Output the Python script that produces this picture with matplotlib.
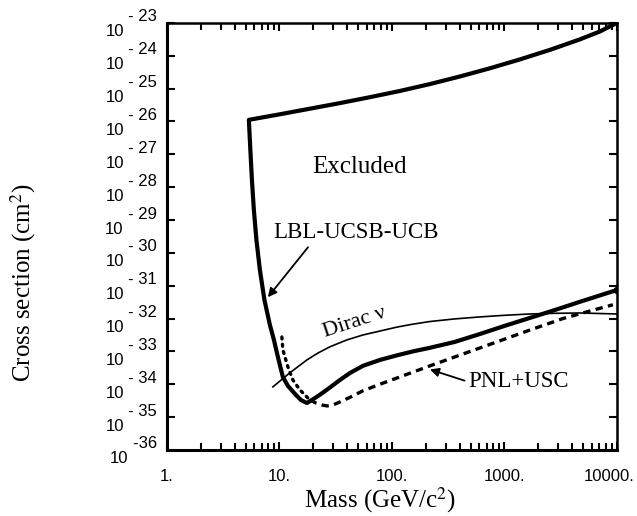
import numpy as np
import matplotlib
matplotlib.use("Agg")
import matplotlib.pyplot as plt
from matplotlib.ticker import FixedLocator, NullLocator, LogLocator, NullFormatter
from matplotlib.transforms import ScaledTranslation

plt.rcParams['font.family'] = ['Liberation Serif', 'DejaVu Serif']
plt.rcParams['mathtext.fontset'] = 'stix'

# LBL-UCSB-UCB boundary (mass in GeV/c^2, log10 of cross section in cm^2)
# upper edge, right to left
top_mass = [10000, 7060, 4690, 2537, 1374, 743, 402, 218, 118, 63.7, 34.5, 18.7, 10.1, 5.355]
top_log = [-23.0, -23.26, -23.50, -23.82, -24.11, -24.38, -24.63, -24.86, -25.07, -25.26, -25.44, -25.61, -25.78, -25.95]
# low mass edge, top to bottom
left_mass = [5.52, 5.70, 5.93, 6.25, 6.71, 7.36, 8.23, 8.94, 9.70, 10.74, 11.90, 13.73, 15.53, 17.55]
left_log = [-26.87, -27.78, -28.69, -29.61, -30.52, -31.43, -32.19, -32.65, -33.17, -33.78, -34.05, -34.29, -34.48, -34.57]
# high mass edge, left to right
right_mass = [19.45, 22.9, 28.1, 34.5, 42.3, 55.2, 78.2, 110.8, 153.7, 217.7, 363, 606, 1010, 1685, 2811, 4690, 10000]
right_log = [-34.48, -34.32, -34.10, -33.87, -33.66, -33.44, -33.26, -33.12, -33.00, -32.89, -32.71, -32.47, -32.22,
             -31.98, -31.74, -31.49, -31.13]

# PNL+USC: dotted at low mass, dashed above
pnl_dot_mass = [10.52, 10.74, 11.90, 13.18, 15.21, 18.67]
pnl_dot_log = [-32.56, -32.95, -33.47, -33.87, -34.17, -34.48]
pnl_dash_mass = [18.67, 21.1, 23.9, 26.4, 29.9, 34.5, 42.3, 55.2, 78.2, 110.8, 217.7, 427.7, 857.9, 1685, 3311, 5754, 9214]
pnl_dash_log = [-34.48, -34.57, -34.63, -34.66, -34.63, -34.54, -34.40, -34.20, -34.00, -33.81, -33.44, -33.08,
                -32.71, -32.35, -32.00, -31.77, -31.58]

# Dirac neutrino
dirac_mass = [8.75, 12.4, 17.55, 22.0, 28.1, 39.8, 55.2, 78.2, 110.8, 153.7, 217.7, 363, 606, 1010, 1685, 2811, 4690, 10000]
dirac_log = [-34.08, -33.65, -33.26, -33.05, -32.86, -32.65, -32.50, -32.38, -32.26, -32.17, -32.09, -32.01, -31.95,
             -31.90, -31.86, -31.84, -31.83, -31.86]

x_ticks = [1, 10, 100, 1000, 10000]
x_labels = ["1.", "10.", "100.", "1000.", "10000."]
y_exps = [-23, -24, -25, -26, -27, -28, -29, -30, -31, -32, -33, -34, -35, -36]

fig = plt.figure(figsize=(6.37, 5.16), dpi=100)
ax = fig.add_axes([0.262, 0.128, 0.7064, 0.8275])

lbl_mass = top_mass + left_mass + right_mass
lbl_log = top_log + left_log + right_log
ax.plot(lbl_mass, 10.0 ** np.array(lbl_log), color='black', lw=3.0,
        solid_joinstyle='round', marker='o', markersize=4.5, markevery=[-1])
ax.plot(pnl_dot_mass, 10.0 ** np.array(pnl_dot_log), color='black', lw=2.4,
        linestyle=(0, (0.6, 1.6)), dash_capstyle='round')
ax.plot(pnl_dash_mass, 10.0 ** np.array(pnl_dash_log), color='black', lw=2.4,
        linestyle=(0, (2.2, 1.6)))
ax.plot(dirac_mass, 10.0 ** np.array(dirac_log), color='black', lw=1.2)

ax.set_xscale('log')
ax.set_yscale('log')
ax.set_xlim(1, 10000)
ax.set_ylim(1e-36, 1e-23)

ax.xaxis.set_major_locator(FixedLocator(x_ticks))
ax.set_xticklabels(x_labels)
ax.xaxis.set_minor_locator(LogLocator(base=10, subs=np.arange(2, 10)))
ax.xaxis.set_minor_formatter(NullFormatter())

y_ticks = [10.0 ** e for e in y_exps]
y_labels = []
for e in y_exps:
    s = "%d" % e if e == -36 else "- %d" % -e
    y_labels.append("     " + s + "\n10")
ax.yaxis.set_major_locator(FixedLocator(y_ticks))
ax.set_yticklabels(y_labels)
ax.yaxis.set_minor_locator(NullLocator())

ax.tick_params(which='both', direction='in', top=True, right=True,
               labelfontfamily='Liberation Sans', labelsize=12, width=1.5)
ax.tick_params(which='major', length=6)
ax.tick_params(which='minor', length=5)
ax.tick_params(axis='x', pad=14)
ax.tick_params(axis='y', pad=7)
for lbl in ax.get_yticklabels():
    lbl.set_linespacing(1.0)
    lbl.set_multialignment('left')
last = ax.get_xticklabels()[-1]
last.set_transform(last.get_transform() + ScaledTranslation(-5.5 / 72, 0, fig.dpi_scale_trans))

for side in ['left', 'bottom']:
    ax.spines[side].set_linewidth(2.2)
for side in ['top', 'right']:
    ax.spines[side].set_linewidth(1.8)

fig.text(0.036, 0.453, "Cross section (cm$^2$)", rotation=90, ha='center', va='center', fontsize=18)
fig.text(0.597, 0.030, "Mass (GeV/c$^2$)", ha='center', va='center', fontsize=18)

ax.text(52, 10.0 ** -27.4, "Excluded", ha='center', va='center', fontsize=18)
ax.text(47, 10.0 ** -32.12, "Dirac ν", ha='center', va='center', fontsize=16, rotation=18)

arrow = dict(arrowstyle='-|>', color='black', lw=1.3, mutation_scale=13, shrinkA=1, shrinkB=0)
ax.annotate("LBL-UCSB-UCB", xy=(7.9, 10.0 ** -31.35), xytext=(47.8, 10.0 ** -29.39),
            ha='center', va='center', fontsize=16.5,
            arrowprops=dict(arrow, relpos=(0.23, 0.0)))
ax.annotate("PNL+USC", xy=(218, 10.0 ** -33.55), xytext=(1346, 10.0 ** -33.93),
            ha='center', va='center', fontsize=16.5,
            arrowprops=dict(arrow, relpos=(0.0, 0.5)))

fig.savefig("out.png", dpi=100)
